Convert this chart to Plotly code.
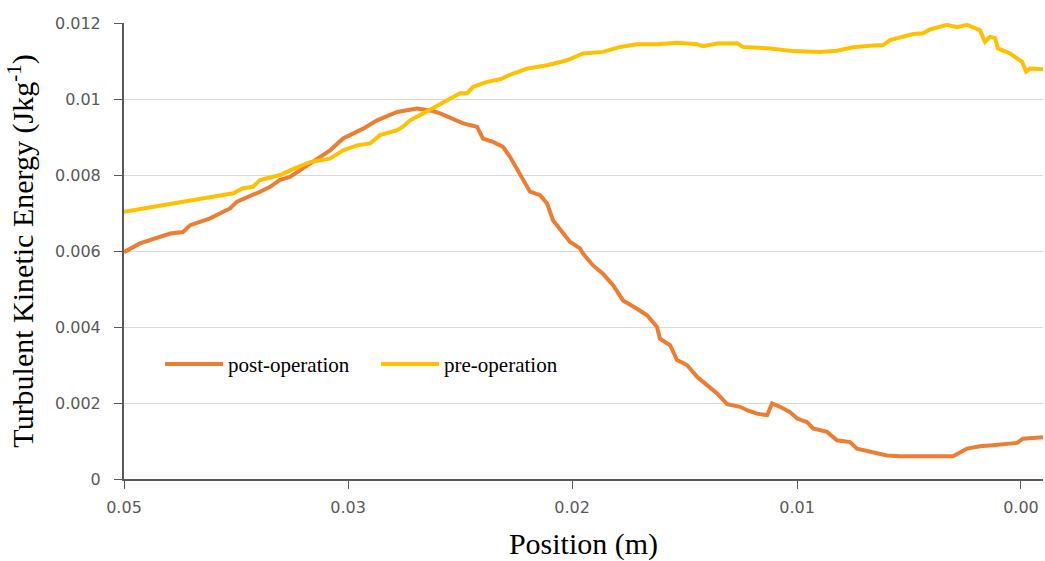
import plotly.graph_objects as go

# Turbulent kinetic energy profiles along the channel (position in m, TKE in J/kg)
post_position = [0.0500, 0.04913, 0.04749, 0.04679, 0.04640, 0.04532, 0.04423, 0.04385,
                 0.04260, 0.04205, 0.04151, 0.04097, 0.03988, 0.03879, 0.03808, 0.03699,
                 0.03623, 0.03514, 0.03406, 0.03335, 0.03280, 0.03210, 0.03155, 0.03079,
                 0.03047, 0.02992, 0.02938, 0.02900, 0.02845, 0.02791, 0.02736, 0.02698,
                 0.02666, 0.02611, 0.02573, 0.02519, 0.02502, 0.02448, 0.02394, 0.02339,
                 0.02285, 0.02209, 0.02154, 0.02100, 0.02084, 0.02029, 0.01991, 0.01937,
                 0.01882, 0.01828, 0.01773, 0.01719, 0.01648, 0.01610, 0.01556, 0.01501,
                 0.01474, 0.01431, 0.01376, 0.01338, 0.01284, 0.01251, 0.01175, 0.01121,
                 0.01050, 0.01012, 0.00941, 0.00887, 0.00849, 0.00778, 0.00669, 0.00577,
                 0.00490, 0.00413, 0.00343, 0.00272, 0.00141, 0.00109, 0.0]
post_tke = [0.00597, 0.00620, 0.00646, 0.00650, 0.00668, 0.00686, 0.00712, 0.00730,
            0.00756, 0.00769, 0.00787, 0.00795, 0.00830, 0.00865, 0.00896, 0.00922,
            0.00944, 0.00966, 0.00975, 0.00970, 0.00962, 0.00949, 0.00936, 0.00927,
            0.00896, 0.00887, 0.00874, 0.00848, 0.00804, 0.00756, 0.00747, 0.00725,
            0.00681, 0.00646, 0.00624, 0.00607, 0.00593, 0.00562, 0.00540, 0.00510,
            0.00470, 0.00448, 0.00431, 0.00400, 0.00369, 0.00352, 0.00313, 0.00300,
            0.00269, 0.00247, 0.00225, 0.00197, 0.00190, 0.00181, 0.00172, 0.00168,
            0.00199, 0.00190, 0.00176, 0.00159, 0.00150, 0.00133, 0.00124, 0.00102,
            0.00097, 0.00080, 0.00071, 0.00066, 0.00062, 0.00060, 0.00060, 0.00058,
            0.00060, 0.00080, 0.00086, 0.00089, 0.00095, 0.00106, 0.00110]

pre_position = [0.0500, 0.04842, 0.04657, 0.04515, 0.04406, 0.04352, 0.04298, 0.04260,
                0.04189, 0.04151, 0.04097, 0.03988, 0.03879, 0.03808, 0.03732, 0.03661,
                0.03607, 0.03514, 0.03482, 0.03444, 0.03373, 0.03335, 0.03242, 0.03172,
                0.03133, 0.03101, 0.03025, 0.02954, 0.02883, 0.02807, 0.02698, 0.02590,
                0.02502, 0.02394, 0.02301, 0.02209, 0.02100, 0.01991, 0.01882, 0.01850,
                0.01773, 0.01665, 0.01632, 0.01485, 0.01360, 0.01213, 0.01121, 0.01034,
                0.00941, 0.00870, 0.00832, 0.00762, 0.00707, 0.00653, 0.00615, 0.00522,
                0.00468, 0.00413, 0.00343, 0.00316, 0.00288, 0.00261, 0.00245, 0.00180,
                0.00141, 0.00114, 0.00092, 0.00071, 0.0]
pre_tke = [0.00703, 0.00716, 0.00730, 0.00743, 0.00752, 0.00765, 0.00769, 0.00787,
           0.00794, 0.00800, 0.00812, 0.00834, 0.00843, 0.00865, 0.00878, 0.00883,
           0.00905, 0.00918, 0.00927, 0.00944, 0.00962, 0.00972, 0.00997, 0.01015,
           0.01015, 0.01032, 0.01045, 0.01052, 0.01067, 0.01080, 0.01089, 0.01102,
           0.01120, 0.01124, 0.01137, 0.01144, 0.01144, 0.01148, 0.01144, 0.01139,
           0.01146, 0.01147, 0.01137, 0.01133, 0.01126, 0.01124, 0.01127, 0.01136,
           0.01140, 0.01142, 0.01155, 0.01164, 0.01171, 0.01173, 0.01183, 0.01195,
           0.01189, 0.01195, 0.01181, 0.01150, 0.01164, 0.01160, 0.01133, 0.01120,
           0.01107, 0.01098, 0.01072, 0.01080, 0.01078]

# Category-style labels placed along the position axis
x_tick_positions = [0.0500, 0.03781, 0.02562, 0.01338, 0.00120]
x_tick_labels = ["0.05", "0.03", "0.02", "0.01", "0.00"]
y_tick_values = [0, 0.002, 0.004, 0.006, 0.008, 0.01, 0.012]
y_tick_labels = ["0", "0.002", "0.004", "0.006", "0.008", "0.01", "0.012"]

SERIF = "Liberation Serif, Times New Roman, serif"
SANS = "DejaVu Sans, sans-serif"

fig = go.Figure()
fig.add_trace(go.Scatter(x=post_position, y=post_tke, mode="lines", name="post-operation",
                         line=dict(color="#ED7D31", width=4)))
fig.add_trace(go.Scatter(x=pre_position, y=pre_tke, mode="lines", name="pre-operation",
                         line=dict(color="#FFC000", width=4)))

fig.update_layout(
    width=1045, height=561,
    margin=dict(l=124, r=2, t=23, b=82),
    paper_bgcolor="white", plot_bgcolor="white",
    showlegend=True,
    legend=dict(orientation="h", x=0.0392, xanchor="left", y=0.2515, yanchor="middle",
                font=dict(family=SERIF, size=21, color="black"),
                bgcolor="rgba(0,0,0,0)", itemwidth=58,
                entrywidth=143, entrywidthmode="pixels"),
    xaxis=dict(range=[0.05, 0.0], autorange=False,
               tickvals=x_tick_positions, ticktext=x_tick_labels,
               ticks="outside", ticklen=8, tickwidth=1, tickcolor="#595959",
               showline=True, linecolor="#595959", linewidth=2,
               showgrid=False, zeroline=False,
               tickfont=dict(family=SANS, size=16, color="#595959"),
               ticklabelstandoff=5,
               title=dict(text="Position (m)", font=dict(family=SERIF, size=30, color="black"),
                          standoff=17)),
    yaxis=dict(range=[0, 0.012], autorange=False,
               tickvals=y_tick_values, ticktext=y_tick_labels,
               ticks="outside", ticklen=8, tickwidth=1, tickcolor="#595959",
               showline=True, linecolor="#595959", linewidth=2,
               showgrid=True, gridcolor="#d9d9d9", gridwidth=1, zeroline=False,
               tickfont=dict(family=SANS, size=16, color="#595959"),
               ticklabelstandoff=10,
               title=dict(text="Turbulent Kinetic Energy (Jkg<sup>-1</sup>)",
                          font=dict(family=SERIF, size=30, color="black"), standoff=12)),
)

fig.write_html("out.html")
